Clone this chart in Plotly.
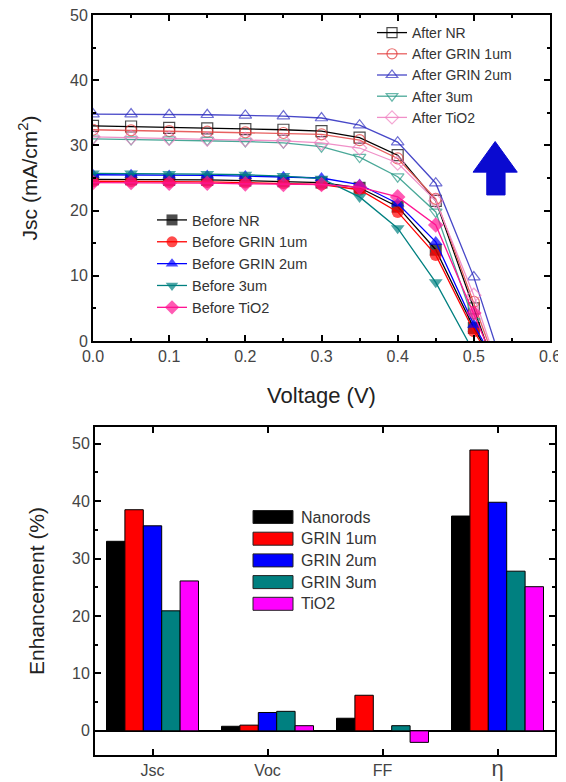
import plotly.graph_objects as go

# ---------------- data: J-V curves (top) ----------------
V = [0.00, 0.05, 0.10, 0.15, 0.20, 0.25, 0.30, 0.35, 0.40, 0.45, 0.50]
V_3UM_BEFORE = [0.00, 0.05, 0.10, 0.15, 0.20, 0.25, 0.30, 0.35, 0.40, 0.45]

after_nr = [33.0, 32.9, 32.7, 32.6, 32.5, 32.4, 32.2, 31.2, 28.5, 21.5, 5.0]
after_grin1 = [32.4, 32.3, 32.2, 32.1, 32.0, 31.9, 31.7, 30.8, 28.0, 21.8, 6.0]
after_grin2 = [34.8, 34.8, 34.7, 34.7, 34.6, 34.5, 34.2, 33.1, 30.5, 24.2, 9.8]
after_3um = [31.0, 30.9, 30.9, 30.8, 30.6, 30.4, 29.8, 28.2, 25.2, 19.8, 3.0]
after_tio2 = [31.3, 31.2, 31.1, 31.0, 30.9, 30.7, 30.4, 29.6, 27.3, 21.5, 7.0]

before_nr = [24.8, 24.8, 24.7, 24.7, 24.6, 24.5, 24.3, 23.5, 20.6, 14.0, 2.0]
before_grin1 = [24.5, 24.5, 24.4, 24.4, 24.3, 24.2, 24.0, 23.2, 19.8, 13.2, 1.5]
before_grin2 = [25.5, 25.5, 25.4, 25.4, 25.3, 25.2, 25.0, 24.0, 21.1, 15.2, 2.5]
before_3um = [25.7, 25.7, 25.6, 25.6, 25.5, 25.3, 24.9, 22.1, 17.3, 9.0]
before_tio2 = [24.3, 24.3, 24.2, 24.2, 24.1, 24.0, 24.0, 23.6, 22.1, 17.8, 4.3]

# open-circuit voltages (J = 0)
voc_after = [0.515, 0.518, 0.527, 0.510, 0.520]
voc_before = [0.510, 0.508, 0.512, 0.492, 0.515]

after_names = ["After NR", "After GRIN 1um", "After GRIN 2um", "After 3um", "After TiO2"]
before_names = ["Before NR", "Before GRIN 1um", "Before GRIN 2um", "Before 3um", "Before TiO2"]

# ---------------- data: enhancement bars (bottom) ----------------
params = ["Jsc", "Voc", "FF", "η"]
bar_names = ["Nanorods", "GRIN 1um", "GRIN 2um", "GRIN 3um", "TiO2"]
enh_nanorods = [33.0, 0.8, 2.2, 37.4]
enh_grin1 = [38.5, 1.0, 6.2, 48.9]
enh_grin2 = [35.7, 3.2, 0.0, 39.8]
enh_grin3 = [20.9, 3.4, 0.9, 27.8]
enh_tio2 = [26.1, 0.9, -2.0, 25.1]

# ---------------- styling ----------------
# The page body has an 8px margin, so the figure is made 8px smaller and
# window-pixel positions are converted to paper coordinates with that offset.
OFF = 8
WF, HF = 566 - OFF, 782 - OFF


def px(x):
    return (x - OFF) / WF


def py(y):
    return 1 - (y - OFF) / HF


FONT = "Liberation Sans, Arial, sans-serif"
TICKC = "#444444"

after_line = ["#000000", "#e86060", "#4848c8", "#4aa898", "#f090c8"]
after_mk = ["#000000", "#e03030", "#3030c0", "#2a9a88", "#f080c0"]
after_sym = ["square-open", "circle-open", "triangle-up-open", "triangle-down-open", "diamond-open"]
before_col = ["#000000", "#ff0000", "#0000ff", "#008080", "#ff1493"]
before_sym = ["square", "circle", "triangle-up", "triangle-down", "diamond"]
bar_col = ["#000000", "#ff0000", "#0000ff", "#008080", "#ff00ff"]

fig = go.Figure()

after_sets = [after_nr, after_grin1, after_grin2, after_3um, after_tio2]
for i, ys in enumerate(after_sets):
    xs = V[:len(ys)] + [voc_after[i]]
    yy = ys + [0.0]
    fig.add_trace(go.Scatter(
        x=xs, y=yy, mode="lines+markers", name=after_names[i],
        line=dict(color=after_line[i], width=1.3),
        marker=dict(symbol=after_sym[i], size=[11] * len(ys) + [0],
                    color=after_mk[i], line=dict(width=1.2, color=after_mk[i])),
        xaxis="x", yaxis="y", legend="legend",
    ))

before_sets = [before_nr, before_grin1, before_grin2, before_3um, before_tio2]
before_v = [V, V, V, V_3UM_BEFORE, V]
for i, ys in enumerate(before_sets):
    xs = before_v[i][:len(ys)] + [voc_before[i]]
    yy = ys + [0.0]
    fig.add_trace(go.Scatter(
        x=xs, y=yy, mode="lines+markers", name=before_names[i],
        line=dict(color=before_col[i], width=1.3),
        marker=dict(symbol=before_sym[i], size=[12] * len(ys) + [0],
                    color=before_col[i], line=dict(width=0)),
        xaxis="x", yaxis="y", legend="legend2",
    ))

bar_sets = [enh_nanorods, enh_grin1, enh_grin2, enh_grin3, enh_tio2]
for i, vals in enumerate(bar_sets):
    fig.add_trace(go.Bar(
        x=params, y=vals, name=bar_names[i],
        marker=dict(color=bar_col[i], line=dict(color="#000000", width=1)),
        xaxis="x2", yaxis="y2", showlegend=False,
    ))

# custom bar legend (wide swatches like the original)
leg_top = 517
leg_step = 21.7
for i, nm in enumerate(bar_names):
    yc = leg_top + i * leg_step
    fig.add_shape(type="rect", xref="paper", yref="paper",
                  x0=px(253), x1=px(293), y0=py(yc + 6.5), y1=py(yc - 6.5),
                  fillcolor=bar_col[i], line=dict(color="#222222", width=1))
    fig.add_annotation(x=px(299), y=py(yc), xref="paper", yref="paper",
                       text=nm, showarrow=False, xanchor="left", yanchor="middle",
                       font=dict(family=FONT, size=16, color="#333333"))

# big blue arrow in the J-V panel
fig.add_shape(type="path", xref="x", yref="y",
              path="M 0.517 22.4 L 0.541 22.4 L 0.541 25.9 L 0.557 25.9 L 0.528 30.6 "
                   "L 0.499 25.9 L 0.517 25.9 Z",
              fillcolor="#0a0ad0", line=dict(color="#0a0ad0", width=1))

axis_common = dict(showline=True, linecolor="#000000", linewidth=2, mirror="allticks",
                   ticks="inside", ticklen=6, tickwidth=1.5, tickcolor="#000000",
                   showgrid=False, zeroline=False, automargin=False,
                   ticklabeloverflow="allow",
                   tickfont=dict(family=FONT, size=16, color=TICKC))

fig.update_layout(
    width=WF, height=HF, margin=dict(l=0, r=0, t=0, b=0, autoexpand=False),
    paper_bgcolor="white", plot_bgcolor="white",
    font=dict(family=FONT, color="#222222"),
    barmode="group", bargap=0.2, bargroupgap=0.0,
    xaxis=dict(domain=[px(93), px(550)], range=[0, 0.6], dtick=0.1, tickformat=".1f",
               anchor="y",
               minor=dict(ticks="inside", ticklen=3, dtick=0.05, tickcolor="#000000"),
               title=dict(text="Voltage (V)", font=dict(family=FONT, size=22, color="#222222"),
                          standoff=23),
               **axis_common),
    yaxis=dict(domain=[py(341), py(15)], range=[0, 50], dtick=10, anchor="x",
               minor=dict(ticks="inside", ticklen=3, dtick=5, tickcolor="#000000"),
               title=dict(text="Jsc (mA/cm<sup>2</sup>)",
                          font=dict(family=FONT, size=21, color="#222222"), standoff=27),
               **axis_common),
    xaxis2=dict(domain=[px(95), px(555)], anchor="y2", type="category",
                range=[-0.5, 3.5], tickvals=params,
                ticktext=["Jsc", "Voc", "FF", "<span style='font-size:22px'>η</span>"],
                **axis_common),
    yaxis2=dict(domain=[py(755), py(427)], range=[-4.2, 52.9], dtick=10,
                anchor="x2",
                minor=dict(ticks="inside", ticklen=3, dtick=5, tickcolor="#000000"),
                title=dict(text="Enhancement (%)",
                           font=dict(family=FONT, size=21, color="#222222"), standoff=22),
                **axis_common),
    legend=dict(x=px(372), y=py(17), xanchor="left", yanchor="top",
                bgcolor="rgba(0,0,0,0)", tracegroupgap=0,
                font=dict(family=FONT, size=14, color="#333333")),
    legend2=dict(x=px(152), y=py(204), xanchor="left", yanchor="top",
                 bgcolor="rgba(0,0,0,0)", tracegroupgap=0,
                 font=dict(family=FONT, size=14.5, color="#333333")),
)

# zero line for the bar panel, drawn by the axis itself
fig.update_yaxes(selector=dict(anchor="x2"), zeroline=True, zerolinecolor="#000000",
                 zerolinewidth=1.5)

fig.write_html("out.html")
